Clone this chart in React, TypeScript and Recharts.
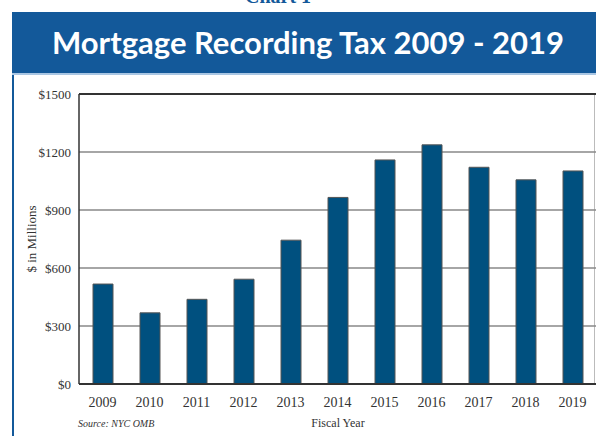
import React from "react";
import { BarChart, Bar, XAxis, YAxis, CartesianGrid, ReferenceLine, Label } from "recharts";

// Fiscal years and mortgage recording tax, $ millions
const years = ["2009", "2010", "2011", "2012", "2013", "2014", "2015", "2016", "2017", "2018", "2019"];
const revenue = [517, 368, 438, 542, 744, 965, 1159, 1237, 1121, 1056, 1102];
const yTicks = [0, 300, 600, 900, 1200, 1500];

const data = years.map((year, i) => ({ year, revenue: revenue[i] }));

const serif = "'Liberation Serif', 'DejaVu Serif', serif";

export default function App() {
  return (
    <div style={{ position: "absolute", left: 0, top: 0, width: 596, height: 436, overflow: "hidden", background: "#fff" }}>
      <div
        style={{
          position: "absolute",
          left: 0,
          top: -15,
          width: 556,
          textAlign: "center",
          fontFamily: serif,
          fontWeight: "bold",
          fontSize: 20,
          color: "#13599a",
        }}
      >
        Chart 1
      </div>
      <div
        style={{
          position: "absolute",
          left: 12,
          top: 12,
          width: 584,
          height: 63,
          background: "#13599a",
          borderBottom: "2px solid #a9c6e3",
          color: "#fff",
          fontFamily: "Lato, 'Open Sans', sans-serif",
          fontWeight: "bold",
          fontSize: 31,
          lineHeight: "60px",
          textAlign: "center",
          paddingLeft: 8,
          boxSizing: "border-box",
        }}
      >
        Mortgage Recording Tax 2009 - 2019
      </div>
      <div style={{ position: "absolute", left: 12, top: 75, width: 2, height: 361, background: "#13599a" }} />
      <div style={{ position: "absolute", left: 594, top: 94, width: 1, height: 290, background: "#bbb" }} />
      <BarChart
        width={596}
        height={436}
        data={data}
        margin={{ top: 94, right: 0, bottom: 0, left: 0 }}
        barSize={20}
        style={{ position: "absolute", left: 0, top: 0 }}
      >
        <CartesianGrid vertical={false} stroke="#888" strokeWidth={1.5} />
        <XAxis
          dataKey="year"
          height={52}
          tickLine={false}
          axisLine={{ stroke: "#333", strokeWidth: 2 }}
          tickSize={0}
          tickMargin={13}
          tick={{ fontFamily: serif, fontSize: 14, fill: "#333" }}
        />
        <YAxis
          width={79}
          domain={[0, 1500]}
          ticks={yTicks}
          tickFormatter={(v: number) => `$${v}`}
          tickLine={false}
          axisLine={{ stroke: "#333", strokeWidth: 1.5 }}
          tickSize={0}
          tickMargin={8}
          tick={{ fontFamily: serif, fontSize: 13, fill: "#333" }}
        >
          <Label value="$ in Millions" angle={-90} position="insideLeft" offset={31} style={{ fontFamily: serif, fontSize: 13, fill: "#333", textAnchor: "middle" }} />
        </YAxis>
        <ReferenceLine y={1500} stroke="#333" strokeWidth={2} />
        <Bar dataKey="revenue" fill="#00507f" stroke="#555" strokeWidth={1} isAnimationActive={false} />
      </BarChart>
      <div
        style={{
          position: "absolute",
          left: 78,
          top: 418,
          fontFamily: serif,
          fontStyle: "italic",
          fontSize: 10,
          color: "#333",
        }}
      >
        Source: NYC OMB
      </div>
      <div
        style={{
          position: "absolute",
          left: 238,
          top: 416,
          width: 200,
          textAlign: "center",
          fontFamily: serif,
          fontSize: 12,
          color: "#333",
        }}
      >
        Fiscal Year
      </div>
    </div>
  );
}
